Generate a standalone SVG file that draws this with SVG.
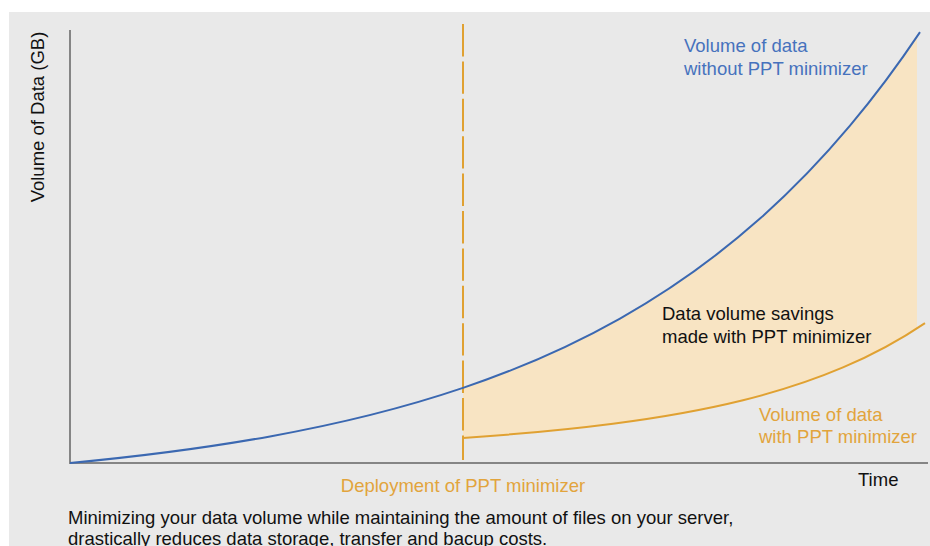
<svg xmlns="http://www.w3.org/2000/svg" width="930" height="546" viewBox="0 0 930 546">
  <style>
    text { font-family: "Liberation Sans", Arial, sans-serif; font-size: 18.5px; }
    .blue-text { fill: #4672bd; }
    .orange-text { fill: #e2a43c; }
    .dark-text { fill: #111111; }
    .axis { stroke: #858585; stroke-width: 2; fill: none; }
    .curve-blue { stroke: #3b68b1; stroke-width: 2; fill: none; }
    .curve-orange { stroke: #e0a132; stroke-width: 2; fill: none; }
  </style>
  <defs>
    <clipPath id="savings-clip">
      <rect x="463" y="0" width="454" height="546"/>
    </clipPath>
  </defs>

  <!-- page -->
  <rect x="0" y="0" width="930" height="546" fill="#ffffff"/>
  <rect x="9" y="12" width="921" height="534" fill="#e9e9e9"/>

  <!-- savings area between the two growth curves -->
  <g id="savings-area" clip-path="url(#savings-clip)">
    <path fill="#f8e4c3" d="M463,387.88 C515.33,370.17 567.67,348.05 620,318.54 C666.67,292.22 713.33,260.05 760,218.58 C790,191.92 820,161.36 850,125.64 C873.33,97.86 896.67,66.98 920,32.1 L925,323.11 C897.67,341.61 870.33,355.81 843,367.44 C809.67,381.62 776.33,391.94 743,400.17 C699.67,410.87 656.33,418.05 613,423.66 C563,430.14 513,434.48 463,438 Z"/>
  </g>

  <!-- axes -->
  <g id="axes">
    <line class="axis" x1="70" y1="30" x2="70" y2="464"/>
    <line class="axis" x1="69" y1="463" x2="928" y2="463"/>
  </g>

  <!-- deployment marker -->
  <g id="deployment-marker">
    <line x1="463" y1="24" x2="463" y2="460" stroke="#e0a132" stroke-width="2" stroke-dasharray="32.4 5"/>
  </g>

  <!-- growth curves (exponential, drawn as Hermite cubic segments) -->
  <g id="curves">
    <path id="curve-without" class="curve-blue" d="M70,463 C136.67,456.71 203.33,448.46 270,436.41 C334.33,424.78 398.67,409.66 463,387.88 C515.33,370.17 567.67,348.05 620,318.54 C666.67,292.22 713.33,260.05 760,218.58 C790,191.92 820,161.36 850,125.64 C873.33,97.86 896.67,66.98 920,32.1"/>
    <path id="curve-with" class="curve-orange" d="M463,438 C513,434.48 563,430.14 613,423.66 C656.33,418.05 699.67,410.87 743,400.17 C776.33,391.94 809.67,381.62 843,367.44 C870.33,355.81 897.67,341.61 925,323.11"/>
  </g>

  <!-- labels -->
  <g id="label-y-axis">
    <text class="dark-text" transform="translate(44,117) rotate(-90)" text-anchor="middle">Volume of Data (GB)</text>
  </g>
  <g id="label-without">
    <text class="blue-text" x="684" y="52">Volume of data</text>
    <text class="blue-text" x="684" y="75">without PPT minimizer</text>
  </g>
  <g id="label-savings">
    <text class="dark-text" x="662" y="320">Data volume savings</text>
    <text class="dark-text" x="662" y="343">made with PPT minimizer</text>
  </g>
  <g id="label-with">
    <text class="orange-text" x="759" y="421">Volume of data</text>
    <text class="orange-text" x="759" y="443">with PPT minimizer</text>
  </g>
  <g id="label-deployment">
    <text class="orange-text" x="463" y="492" text-anchor="middle">Deployment of PPT minimizer</text>
  </g>
  <g id="label-time">
    <text class="dark-text" x="858" y="486">Time</text>
  </g>
  <g id="caption">
    <text class="dark-text" x="68" y="524">Minimizing your data volume while maintaining the amount of files on your server,</text>
    <text class="dark-text" x="68" y="545">drastically reduces data storage, transfer and bacup costs.</text>
  </g>
</svg>
